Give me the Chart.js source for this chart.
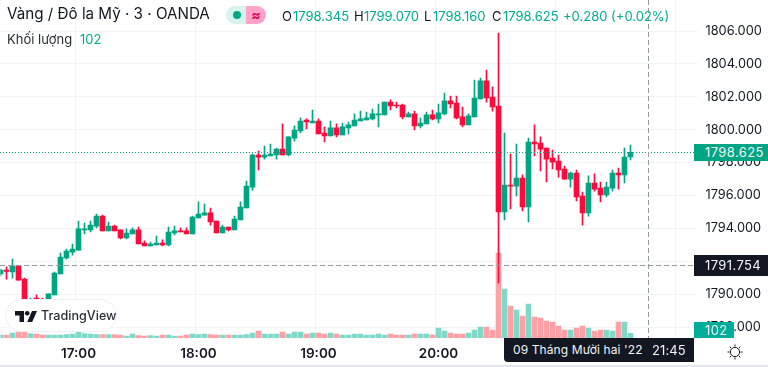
<!DOCTYPE html>
<html><head><meta charset="utf-8">
<script src="https://cdn.jsdelivr.net/npm/chart.js@4"></script>
<style>
html,body{margin:0;padding:0;background:#fff;overflow:hidden}
body{width:768px;height:367px;position:relative;font-family:Inter,"Noto Sans",sans-serif;color:#131722}
canvas{position:absolute;left:0;top:0}
.t{position:absolute;white-space:nowrap;line-height:18px;height:18px}
.g{color:#00ab93}
.box{position:absolute;color:#f4f5f7;font-size:13px;letter-spacing:.4px;box-sizing:border-box}
</style></head><body>
<canvas id="c" width="768" height="367" style="width:768px;height:367px"></canvas>

<div class="t" style="left:7px;top:5px;font-size:15.2px">Vàng / Đô la Mỹ · 3 · OANDA</div>
<div style="position:absolute;left:226px;top:6px;width:20px;height:18px;background:#d6f3ed;border-radius:9px 0 0 9px"></div>
<div style="position:absolute;left:233px;top:11px;width:8px;height:8px;background:#04a584;border-radius:50%"></div>
<div style="position:absolute;left:246px;top:6px;width:20px;height:18px;background:#ffa3c9;border-radius:0 9px 9px 0"></div>
<div class="t" style="left:246px;top:6px;width:20px;text-align:center;font-size:14px;font-weight:700;color:#e0004d">≈</div>
<div class="t" style="left:282px;top:7px;font-size:13px">O</div><div class="t g" style="left:293px;top:7px;font-size:13px">1798.345</div>
<div class="t" style="left:354px;top:7px;font-size:13px">H</div><div class="t g" style="left:364px;top:7px;font-size:13px">1799.070</div>
<div class="t" style="left:424px;top:7px;font-size:13px">L</div><div class="t g" style="left:433px;top:7px;font-size:13px">1798.160</div>
<div class="t" style="left:492px;top:7px;font-size:13px">C</div><div class="t g" style="left:503px;top:7px;font-size:13px">1798.625</div>
<div class="t g" style="left:563px;top:7px;font-size:13px">+0.280 (+0.02%)</div>
<div class="t" style="left:7px;top:30px;font-size:13px;color:#2a2e39">Khối lượng</div>
<div class="t g" style="left:80px;top:30px;font-size:13px">102</div>

<div style="position:absolute;left:5px;top:299px;width:112px;height:33px;box-sizing:border-box;background:#fff;border:1px solid #eceef2;border-radius:17px"></div>
<svg style="position:absolute;left:15px;top:311px" width="22" height="12" viewBox="0 0 22 12"><path d="M0 0H9V11H4.5V4.5H0Z" fill="#131722"/><circle cx="12.2" cy="2.3" r="2.3" fill="#131722"/><path d="M17 0H22L17.2 11H12.2Z" fill="#131722"/></svg>
<div class="t" style="left:41px;top:307px;font-size:12.6px;font-weight:500;color:#2a2e39">TradingView</div>

<div class="box" style="left:694px;top:144px;width:74px;height:17px;background:#02a583;padding:0 0 0 11px;line-height:17px">1798.625</div>
<div class="box" style="left:694px;top:255px;width:74px;height:21px;background:#131722;padding:0 0 0 11px;line-height:21px">1791.754</div>
<div class="box" style="left:694px;top:322px;width:40px;height:16px;background:#00ad9a;padding:0 0 0 11px;line-height:17px">102</div>
<div class="box" style="left:504px;top:338px;width:190px;height:24px;background:#131722;border-radius:0 0 0 4px;line-height:24px;padding-left:9px;font-size:12px;letter-spacing:.1px">09 Tháng Mười hai '22<span style="position:absolute;left:148px;font-size:13px">21:45</span></div>
<svg style="position:absolute;left:725px;top:342px" width="20" height="20" viewBox="0 0 20 20" fill="none" stroke="#131722" stroke-width="1"><circle cx="10" cy="10" r="4.6"/><path d="M10 2.5V4.5M10 15.5V17.5M2.5 10H4.5M15.5 10H17.5M4.7 4.7L6.1 6.1M13.9 13.9L15.3 15.3M4.7 15.3L6.1 13.9M13.9 6.1L15.3 4.7"/></svg>
<div style="position:absolute;left:0;top:365px;width:768px;height:2px;background:#e3e6ee"></div>

<script>
const times = ["16:21","16:24","16:27","16:30","16:33","16:36","16:39","16:42","16:45","16:48","16:51","16:54","16:57",
"17:00","17:03","17:06","17:09","17:12","17:15","17:18","17:21","17:24","17:27","17:30","17:33","17:36","17:39","17:42","17:45","17:48","17:51","17:54","17:57",
"18:00","18:03","18:06","18:09","18:12","18:15","18:18","18:21","18:24","18:27","18:30","18:33","18:36","18:39","18:42","18:45","18:48","18:51","18:54","18:57",
"19:00","19:03","19:06","19:09","19:12","19:15","19:18","19:21","19:24","19:27","19:30","19:33","19:36","19:39","19:42","19:45","19:48","19:51","19:54","19:57",
"20:00","20:03","20:06","20:09","20:12","20:15","20:18","20:21","20:24","20:27","20:30","20:33","20:36","20:39","20:42","20:45","20:48","20:51","20:54","20:57",
"21:00","21:03","21:06","21:09","21:12","21:15","21:18","21:21","21:24","21:27","21:30","21:33","21:36","21:39","21:42","21:45","21:48","21:51","21:54","21:57","22:00","22:03","22:06","22:09"];
const hourLabels = ["17:00","18:00","19:00","20:00"];
const gridTimes = ["17:00","18:00","19:00","20:00","21:00","22:00"];

const open = [1791.23,1791.47,1791.35,1791.72,1790.92,1789.53,1789.77,1789.65,1789.47,1789.96,
1791.23,1792.20,1792.56,1792.68,1793.91,1793.91,1794.14,1794.75,1793.85,1794.14,
1793.91,1793.42,1793.66,1793.91,1793.11,1792.93,1792.99,1793.11,1792.99,1793.72,
1793.85,1793.85,1793.66,1794.63,1794.81,1794.94,1794.45,1793.72,1794.08,1793.91,
1794.51,1795.24,1796.51,1798.46,1798.33,1798.40,1798.46,1798.82,1798.46,1799.49,
1799.92,1800.59,1800.41,1800.53,1799.80,1799.62,1800.11,1799.68,1800.11,1800.23,
1800.53,1800.59,1800.66,1800.90,1800.90,1801.68,1801.50,1801.50,1800.78,1800.96,
1800.23,1800.35,1800.90,1800.66,1800.96,1801.75,1801.62,1800.78,1800.29,1800.78,
1801.87,1802.97,1801.99,1801.44,1795.00,1796.64,1796.57,1797.06,1795.30,1799.25,
1799.19,1798.88,1798.27,1798.09,1797.61,1797.00,1797.37,1795.97,1794.94,1796.76,
1796.45,1796.04,1796.45,1797.37,1797.25,1798.345];
const high = [1791.53,1791.66,1792.13,1791.76,1790.98,1789.77,1789.96,1789.77,1790.02,1791.35,
1792.50,1792.75,1793.05,1794.45,1794.32,1794.45,1794.87,1794.81,1794.39,1794.20,
1793.91,1793.97,1794.03,1794.08,1793.24,1793.17,1793.54,1793.30,1794.08,1794.14,
1794.03,1794.03,1794.75,1795.61,1795.48,1795.24,1794.45,1794.20,1794.08,1794.75,
1795.61,1796.88,1798.52,1798.70,1799.01,1799.13,1798.88,1800.35,1799.56,1800.23,
1800.72,1800.66,1801.20,1800.66,1800.17,1800.53,1800.35,1800.41,1800.47,1800.96,
1801.13,1801.07,1801.26,1801.56,1801.68,1801.81,1801.68,1801.56,1801.07,1801.13,
1800.72,1801.07,1801.20,1801.56,1802.23,1802.05,1802.05,1801.38,1800.96,1803.02,
1803.14,1803.63,1802.60,1805.88,1799.80,1798.52,1799.13,1797.25,1799.49,1800.29,
1799.56,1798.88,1798.76,1798.46,1797.79,1797.43,1797.55,1796.21,1797.19,1797.31,
1796.82,1796.82,1797.55,1797.67,1798.88,1799.07];
const low = [1791.11,1790.92,1790.98,1790.86,1789.41,1789.47,1789.47,1789.41,1789.47,1789.96,
1791.23,1792.13,1792.38,1792.68,1793.66,1793.78,1794.03,1793.85,1793.85,1793.85,
1793.36,1793.36,1793.66,1793.05,1792.93,1792.93,1792.99,1792.93,1792.93,1793.60,
1793.78,1793.66,1793.66,1794.63,1794.81,1794.20,1793.72,1793.72,1793.85,1793.91,
1794.51,1795.24,1796.33,1797.55,1798.21,1798.40,1798.21,1798.46,1798.40,1799.31,
1799.80,1800.04,1800.41,1799.74,1799.25,1799.62,1799.56,1799.68,1799.74,1800.23,
1800.53,1800.59,1800.59,1800.17,1800.90,1801.20,1801.32,1800.66,1800.78,1799.98,
1800.11,1800.35,1800.59,1800.41,1800.90,1801.32,1800.66,1800.17,1800.29,1800.78,
1801.87,1801.68,1801.13,1790.68,1794.51,1795.18,1795.97,1795.06,1794.39,1798.40,
1797.49,1796.82,1797.61,1797.12,1797.00,1796.51,1795.67,1794.20,1794.75,1796.27,
1795.61,1795.91,1796.27,1796.39,1796.76,1798.16];
const close = [1791.47,1791.38,1791.72,1790.86,1789.47,1789.65,1789.53,1789.47,1790.02,1791.29,
1792.26,1792.62,1792.75,1793.97,1793.97,1794.20,1794.75,1793.85,1794.14,1793.85,
1793.42,1793.72,1793.91,1793.05,1792.93,1793.05,1793.11,1792.99,1793.78,1793.85,
1793.78,1793.66,1794.69,1794.87,1794.94,1794.39,1793.72,1794.08,1793.91,1794.57,
1795.30,1796.57,1798.46,1798.33,1798.46,1798.52,1798.82,1798.46,1799.56,1799.98,
1800.53,1800.47,1800.53,1799.74,1799.62,1800.11,1799.68,1800.17,1800.29,1800.59,
1800.66,1800.72,1800.96,1800.96,1801.68,1801.44,1801.44,1800.78,1800.96,1800.23,
1800.41,1800.90,1800.66,1801.02,1801.75,1801.56,1800.72,1800.29,1800.84,1801.93,
1802.97,1801.93,1801.38,1795.00,1796.64,1796.57,1797.06,1795.30,1799.25,1799.13,
1798.82,1798.21,1798.03,1797.55,1797.00,1797.37,1795.91,1794.94,1796.76,1796.39,
1796.04,1796.51,1797.37,1797.25,1798.33,1798.625];
const volume = [65,65,109,130,130,98,87,65,65,65,
65,76,87,130,98,87,76,76,76,76,
65,43,87,54,43,54,43,65,65,43,
43,65,87,76,87,76,65,65,65,65,
65,76,109,152,87,87,87,130,87,130,
130,87,109,109,87,109,87,65,65,87,
87,65,65,87,65,87,65,65,65,87,
87,87,65,217,152,109,87,87,109,174,
239,239,174,1845,1063,694,608,477,738,456,
434,369,347,260,174,174,217,260,217,152,
174,174,152,347,347,102];

const UP='#02a583', DOWN='#ff0a3c', UPV='#80d8c9', DOWNV='#ffa0a6';
const lastClose=1798.625, crossPrice=1791.754, crossTime="21:45";
const priceMin=1787.337, priceMax=1807.885, volMax=7335;

const isUp=i=>close[i]>=open[i];
const overlay={id:'overlay',afterDatasetsDraw(ch){
  const c=ch.ctx,a=ch.chartArea,y=ch.scales.y,x=ch.scales.x;
  c.save();
  c.lineWidth=1;
  c.strokeStyle=UP;c.setLineDash([1,2]);
  let p=Math.floor(y.getPixelForValue(lastClose))+.5;
  c.beginPath();c.moveTo(0,p);c.lineTo(694,p);c.stroke();
  c.strokeStyle='#9598a1';c.setLineDash([5,3]);
  p=Math.floor(y.getPixelForValue(crossPrice))+.5;
  c.beginPath();c.moveTo(0,p);c.lineTo(694,p);c.stroke();
  p=Math.floor(x.getPixelForValue(times.indexOf(crossTime)))+.5;
  c.beginPath();c.moveTo(p,0);c.lineTo(p,a.bottom);c.stroke();
  c.restore();
}};
const noPad=s=>{s.paddingLeft=0;s.paddingRight=0;s.paddingTop=0;s.paddingBottom=0;};

new Chart(document.getElementById('c'),{
  type:'bar',
  data:{labels:times,datasets:[
    {label:'Khối lượng',data:volume,yAxisID:'y2',grouped:false,order:3,barThickness:5,
     backgroundColor:volume.map((v,i)=>isUp(i)?UPV:DOWNV)},
    {label:'Bóng nến',data:high.map((h,i)=>[low[i],h]),yAxisID:'y',grouped:false,order:2,barThickness:1,
     backgroundColor:high.map((h,i)=>isUp(i)?UP:DOWN)},
    {label:'Thân nến',data:open.map((o,i)=>[o,close[i]]),yAxisID:'y',grouped:false,order:1,barThickness:5,
     backgroundColor:open.map((o,i)=>isUp(i)?UP:DOWN)}
  ]},
  options:{
    responsive:false,animation:false,
    layout:{padding:{left:.5,right:0,top:0,bottom:0}},
    plugins:{legend:{display:false},tooltip:{enabled:false}},
    scales:{
      x:{type:'category',offset:false,position:'bottom',
        grid:{drawTicks:false,color:c=>gridTimes.includes(times[c.index])?'#f0f3f7':'rgba(0,0,0,0)'},
        border:{display:false},
        afterFit(s){s.height=29;noPad(s)},
        ticks:{autoSkip:false,maxRotation:0,minRotation:0,padding:7.5,color:'#131722',
          font:{family:'Inter',size:13.5,weight:'600'},
          callback(v){const l=times[v];return hourLabels.includes(l)?l:''}}},
      y:{position:'right',min:priceMin,max:priceMax,
        grid:{drawTicks:false,color:'#f0f3f7'},border:{display:false},
        afterFit(s){s.width=71.5;noPad(s)},
        ticks:{stepSize:2,includeBounds:false,padding:9,color:'#131722',
          font:{family:'Inter',size:12.8},callback:v=>v.toFixed(3)}},
      y2:{display:false,min:0,max:volMax}
    }
  },
  plugins:[overlay]
});
</script>
</body></html>
